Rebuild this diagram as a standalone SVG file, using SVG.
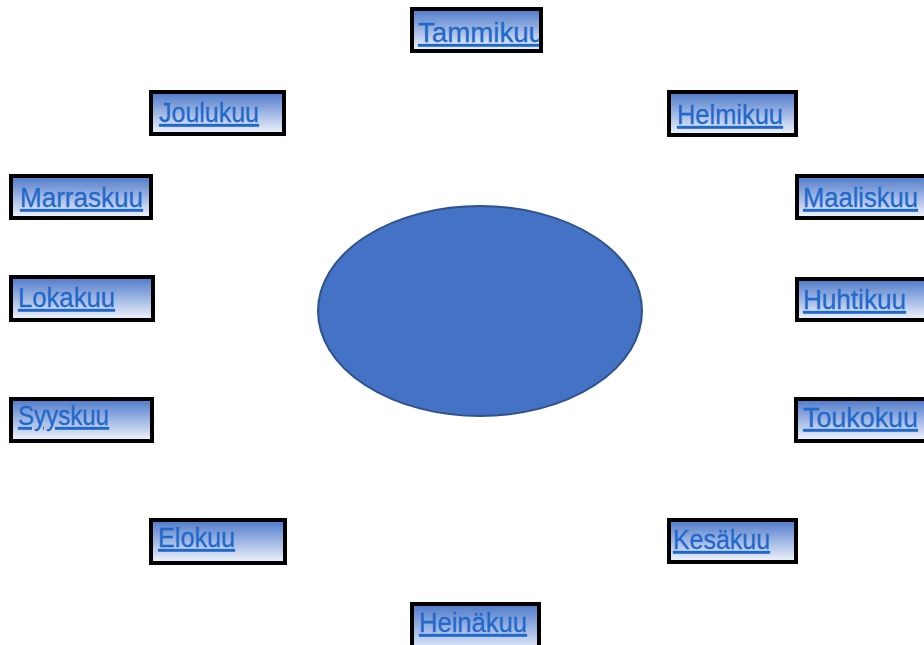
<svg xmlns="http://www.w3.org/2000/svg" width="924" height="645" viewBox="0 0 924 645">
<defs>
<linearGradient id="g" x1="0" y1="0" x2="0" y2="1">
<stop offset="0" stop-color="#4d79c9"/>
<stop offset="0.5" stop-color="#9fb7e3"/>
<stop offset="1" stop-color="#f2f5fc"/>
</linearGradient>
<clipPath id="c1"><rect x="414" y="11" width="125" height="38"/></clipPath>
</defs>
<style>
.box{fill:url(#g);stroke:#000;stroke-width:4}
.t{font-family:"Liberation Sans",Arial,sans-serif;font-size:27px;fill:#1f68cc;stroke:#1f68cc;stroke-width:0.3;text-decoration:underline}
.ov{fill:#4472c4;stroke:#2f528f;stroke-width:2}
</style>
<rect width="924" height="645" fill="#fff"/>
<g id="connectors"></g>
<g id="center"><ellipse class="ov" cx="480" cy="311" rx="162" ry="105"/></g>
<g id="tammikuu"><rect class="box" x="412" y="9" width="129" height="42"/><text class="t" x="418" y="42" textLength="126" lengthAdjust="spacingAndGlyphs" clip-path="url(#c1)">Tammikuu</text></g>
<g id="helmikuu"><rect class="box" x="669" y="92" width="127" height="43"/><text class="t" x="677" y="124" textLength="106" lengthAdjust="spacingAndGlyphs">Helmikuu</text></g>
<g id="maaliskuu"><rect class="box" x="797" y="176" width="140" height="42"/><text class="t" x="803" y="207" textLength="115" lengthAdjust="spacingAndGlyphs">Maaliskuu</text></g>
<g id="huhtikuu"><rect class="box" x="797" y="279" width="140" height="41"/><text class="t" x="803" y="309" textLength="103" lengthAdjust="spacingAndGlyphs">Huhtikuu</text></g>
<g id="toukokuu"><rect class="box" x="796" y="399" width="140" height="42"/><text class="t" x="803" y="427" textLength="115" lengthAdjust="spacingAndGlyphs">Toukokuu</text></g>
<g id="kesakuu"><rect class="box" x="669" y="520" width="127" height="42"/><text class="t" x="673" y="549" textLength="97" lengthAdjust="spacingAndGlyphs">Kesäkuu</text></g>
<g id="heinakuu"><rect class="box" x="412" y="604" width="127" height="50"/><text class="t" x="419" y="632" textLength="108" lengthAdjust="spacingAndGlyphs">Heinäkuu</text></g>
<g id="elokuu"><rect class="box" x="151" y="520" width="134" height="43"/><text class="t" x="158" y="547" textLength="77" lengthAdjust="spacingAndGlyphs">Elokuu</text></g>
<g id="syyskuu"><rect class="box" x="11" y="399" width="141" height="42"/><text class="t" x="18" y="425" textLength="91" lengthAdjust="spacingAndGlyphs">Syyskuu</text></g>
<g id="lokakuu"><rect class="box" x="11" y="277" width="142" height="43"/><text class="t" x="18" y="307" textLength="97" lengthAdjust="spacingAndGlyphs">Lokakuu</text></g>
<g id="marraskuu"><rect class="box" x="11" y="176" width="140" height="42"/><text class="t" x="20" y="207" textLength="123" lengthAdjust="spacingAndGlyphs">Marraskuu</text></g>
<g id="joulukuu"><rect class="box" x="151" y="92" width="133" height="42"/><text class="t" x="159" y="122" textLength="100" lengthAdjust="spacingAndGlyphs">Joulukuu</text></g>
</svg>
